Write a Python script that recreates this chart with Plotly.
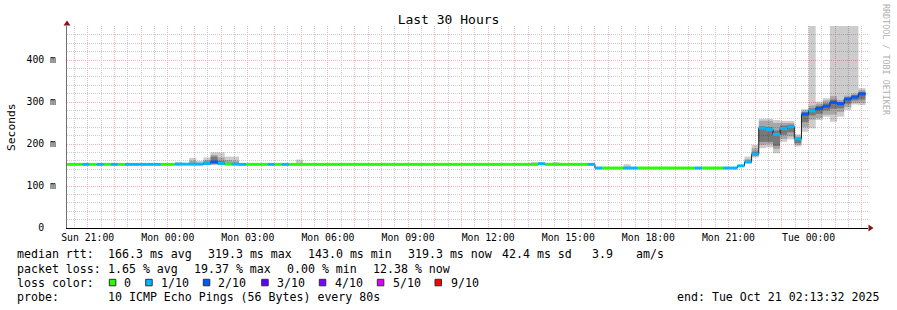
import plotly.graph_objects as go
import pandas as pd

# ---------------- data ----------------
BIN_START = pd.Timestamp("2025-10-19 20:00:00")   # RRD consolidation bins of 16 min
BIN_MINUTES = 16
RANGE_START = "2025-10-19 20:13:32"
RANGE_END = "2025-10-21 02:13:32"

# median rtt per 16-min bin (ms)
median_ms = [
    151.5, 151.5, 151.5, 151.5, 151.5, 151.5, 151.5, 151.5, 151.5, 151.5,
    151.5, 151.5, 151.5, 151.5, 151.5, 151.5,
    152, 152, 152, 152, 154, 157, 154, 152, 152, 151.5,
    151.5, 151.5, 151.5, 151.5, 151.5, 151.5, 151.5, 151.5, 151.5, 151.5,
    151.5, 151.5, 151.5, 151.5, 151.5, 151.5, 151.5, 151.5, 151.5, 151.5,
    151.5, 151.5, 151.5, 151.5, 151.5, 151.5, 151.5, 151.5, 151.5, 151.5,
    151.5, 151.5, 151.5, 151.5, 151.5, 151.5, 151.5, 151.5, 151.5, 151.5,
    151.5, 153, 151.5, 151.5, 151.5, 151.5, 151.5, 151.5, 151.5,
    142.8, 142.8, 142.8, 142.8, 142.8, 142.8, 142.8, 142.8, 142.8, 142.8,
    142.8, 142.8, 142.8, 142.8, 142.8, 142.8, 142.8, 142.8, 142.8, 142.8,
    148, 157, 176, 238, 235, 223, 237, 241, 212, 271,
    279, 285, 290, 299, 296, 307, 312, 319.3,
]

# lost pings (out of 10) per bin
loss_tenths = [
    0, 0, 0, 1, 0, 1, 0, 1, 0,
    1, 1, 1, 1, 1, 0, 0,
    1, 1, 1, 1, 1, 2, 1, 0, 1, 1,
    0, 0, 0, 1, 0, 1,
    0, 0, 0, 0, 0, 0, 0, 0, 0, 0,
    0, 0, 0, 0, 0, 0, 0, 0, 0, 0,
    0, 0, 0, 0, 0, 0, 0, 0, 0, 0,
    0, 0, 0, 0, 0,
    1, 0, 0, 0, 0, 0, 0, 1,
    1, 0, 0, 0, 1, 1, 0, 0, 0, 0, 0, 0, 0, 0, 1, 0, 0, 0, 1, 1,
    1, 1, 1, 1, 1, 1, 1, 1, 1, 2,
    1, 2, 2, 2, 2, 2, 2, 2,
]

# smoke (ping spread) for bins where it is visible
smoke_bin = [16, 18, 19, 20, 21, 22, 23, 24, 33, 66, 67, 69, 79, 96, 97,
             98, 99, 100, 101, 102, 103, 104, 105, 106, 107, 108, 109, 110, 111, 112]
outer_hi = [157, 167, 160, 168, 180, 180, 170, 170, 163, 157, 157, 157, 152, 170, 198,
            260, 260, 257, 255, 255, 223, 283, 500, 301, 309, 500, 500, 500, 500, 333]
outer_lo = [150, 150, 150, 150, 150, 150, 150, 150, 150, 150, 150, 150, 141, 155, 168,
            190, 192, 178, 205, 211, 194, 229, 237, 257, 265, 253, 265, 281, 294, 293]
mid_hi = [154, 160, 155, 162, 174, 168, 162, 160, 155, 154, 155, 154, 146, 164, 190,
          255, 255, 250, 250, 250, 218, 280, 292, 296, 304, 314, 305, 315, 320, 328]
mid_lo = [150, 150, 150, 150, 151, 151, 150, 150, 150, 150, 150, 150, 141, 155, 171,
          198, 200, 188, 212, 218, 198, 240, 258, 262, 270, 270, 276, 288, 298, 298]
inner_hi = [152, 155, 152, 158, 170, 160, 155, 154, 152, 152, 154, 152, 143, 160, 182,
            242, 240, 232, 244, 246, 215, 276, 285, 291, 297, 306, 300, 311, 316, 324]
inner_lo = [151, 151, 151, 151, 155, 152, 151, 151, 151, 151, 151, 151, 142, 156, 173,
            205, 205, 195, 222, 228, 202, 252, 268, 272, 280, 284, 285, 296, 304, 306]

x_tick_hours = pd.date_range("2025-10-19 21:00", "2025-10-21 02:00", freq="h")
x_tick_labels = ["Sun 21:00", "Mon 00:00", "Mon 03:00", "Mon 06:00", "Mon 09:00",
                 "Mon 12:00", "Mon 15:00", "Mon 18:00", "Mon 21:00", "Tue 00:00"]
y_tick_vals = [0, 100, 200, 300, 400]
y_tick_text = ["0\u00a0\u00a0", "100 m", "200 m", "300 m", "400 m"]

loss_levels = [0, 1, 2, 3, 4, 5, 9]
loss_labels = ["0", "1/10", "2/10", "3/10", "4/10", "5/10", "9/10"]
loss_colors = ["#26ff00", "#00b8ff", "#0059ff", "#5e00ff", "#7e00ff", "#dd00ff", "#ff0000"]

# ---------------- geometry helpers (pixel -> paper) ----------------
W, H = 897, 310
L, R, T, B = 67, 868, 26, 228


def px(xp):
    return (xp - L) / (R - L)


def py(yp):
    return (B - yp) / (B - T)


FONT = "DejaVu Sans Mono"

n = len(median_ms)
bin_edges = [BIN_START + pd.Timedelta(minutes=BIN_MINUTES * k) for k in range(n + 1)]
bin_width_ms = BIN_MINUTES * 60 * 1000

fig = go.Figure()

# smoke layers
centers = [bin_edges[k] + pd.Timedelta(minutes=BIN_MINUTES / 2) for k in smoke_bin]
for lo, hi, col in [(outer_lo, outer_hi, "rgba(0,0,0,0.2)"),
                    (mid_lo, mid_hi, "rgba(0,0,0,0.18)"),
                    (inner_lo, inner_hi, "rgba(0,0,0,0.28)")]:
    fig.add_trace(go.Bar(x=centers, base=lo, y=[h - l for l, h in zip(lo, hi)],
                         width=bin_width_ms, marker=dict(color=col, line=dict(width=0)),
                         hoverinfo="skip", showlegend=False))

# black median step line
fig.add_trace(go.Scatter(x=bin_edges, y=median_ms + [median_ms[-1]], mode="lines",
                         line=dict(color="#202020", width=1, shape="hv"),
                         hoverinfo="skip", showlegend=False))

# loss-coloured median segments
color_of = dict(zip(loss_levels, loss_colors))
for lv in sorted(set(loss_tenths)):
    xs, ys = [], []
    for k, (m, l) in enumerate(zip(median_ms, loss_tenths)):
        if l == lv:
            xs += [bin_edges[k], bin_edges[k + 1], None]
            ys += [m, m, None]
    fig.add_trace(go.Scatter(x=xs, y=ys, mode="lines",
                             line=dict(color=color_of[lv], width=3),
                             hoverinfo="skip", showlegend=False))

lab_iter = iter(x_tick_labels)
ticktext = [next(lab_iter) if t.hour % 3 == 0 else "" for t in x_tick_hours]

MGRID = "#f3b5b5"
GRID = "#cdcdcd"
fig.update_layout(
    width=W, height=H,
    margin=dict(l=L, r=W - R, t=T, b=H - B, pad=0),
    paper_bgcolor="white", plot_bgcolor="white",
    barmode="overlay",
    showlegend=False,
    title=dict(text="Last 30 Hours", x=0.5, xanchor="center", y=1 - 19.5 / H, yanchor="middle",
               font=dict(family=FONT, size=13, color="black")),
    xaxis=dict(type="date", range=[RANGE_START, RANGE_END],
               tickmode="array", tickvals=list(x_tick_hours), ticktext=ticktext,
               ticks="", tickfont=dict(family=FONT, size=9.8, color="black"),
               showgrid=True, gridcolor=MGRID, griddash="1px,1px", gridwidth=1,
               minor=dict(dtick=30 * 60 * 1000, tick0="2025-10-19 20:30:00",
                          showgrid=True, gridcolor=GRID, griddash="1px,1px", gridwidth=1),
               showline=True, linecolor="black", linewidth=1, zeroline=False,
               ticklabelstandoff=0),
    yaxis=dict(range=[0, 481], tickmode="array", tickvals=y_tick_vals, ticktext=y_tick_text,
               ticks="", tickfont=dict(family=FONT, size=9.8, color="black"),
               showgrid=True, gridcolor=MGRID, griddash="1px,1px", gridwidth=1,
               minor=dict(dtick=20, tick0=0, showgrid=True, gridcolor=GRID,
                          griddash="1px,1px", gridwidth=1),
               showline=True, linecolor="#707070", linewidth=1, zeroline=False,
               ticklabelstandoff=8),
)

ann = []


def text(s, xp, yp, anchor="left", size=11.6, color="black", angle=0):
    ann.append(dict(text=s, x=px(xp), y=py(yp), xref="paper", yref="paper",
                    xanchor=anchor, yanchor="middle", showarrow=False, borderpad=0,
                    textangle=angle, font=dict(family=FONT, size=size, color=color)))


text("Seconds", 11, 127, anchor="center", size=11.3, angle=-90)
text("RRDTOOL / TOBI OETIKER", 886, 60, anchor="center", size=8.4, color="#b0b0b0", angle=90)

y1, y2, y3, y4 = 254.5, 268.5, 282.5, 296.5
for s, xp in [("median rtt:", 16), ("166.3 ms avg", 107), ("319.3 ms max", 207),
              ("143.0 ms min", 307), ("319.3 ms now", 407), ("42.4 ms sd", 501),
              ("3.9", 591.5), ("am/s", 635)]:
    text(s, xp - 0.5, y1)
for s, xp in [("packet loss:", 16), ("1.65 % avg", 107), ("19.37 % max", 193.3),
              ("0.00 % min", 286), ("12.38 % now", 372.7)]:
    text(s, xp - 0.5, y2)
text("loss color:", 15.5, y3)
box_x = [109.3, 145.7, 203.3, 261.7, 319.3, 377.3, 435]
lab_x = [123.3, 160, 217.7, 276, 334, 392.3, 450]
shapes = []
for bx, lx, lab, col in zip(box_x, lab_x, loss_labels, loss_colors):
    shapes.append(dict(type="rect", xref="paper", yref="paper",
                       x0=px(bx), x1=px(bx + 6.5), y0=py(285.8), y1=py(279.3),
                       fillcolor=col, line=dict(color="#303030", width=1)))
    text(lab, lx - 0.5, y3)
text("probe:", 15.5, y4)
text("10 ICMP Echo Pings (56 Bytes) every 80s", 106.5, y4)
text("end: Tue Oct 21 02:13:32 2025", 880.5, y4, anchor="right")

# axis arrows
ARROW = "#861515"
shapes.append(dict(type="path", xref="paper", yref="paper",
                   path=f"M {px(63.5)},{py(25.5)} L {px(67)},{py(20.5)} L {px(70.5)},{py(25.5)} Z",
                   fillcolor=ARROW, line=dict(color=ARROW, width=0)))
shapes.append(dict(type="path", xref="paper", yref="paper",
                   path=f"M {px(868.5)},{py(224.5)} L {px(873.5)},{py(228)} L {px(868.5)},{py(231.5)} Z",
                   fillcolor=ARROW, line=dict(color=ARROW, width=0)))

fig.update_layout(annotations=ann, shapes=shapes)
fig.write_html("out.html")
